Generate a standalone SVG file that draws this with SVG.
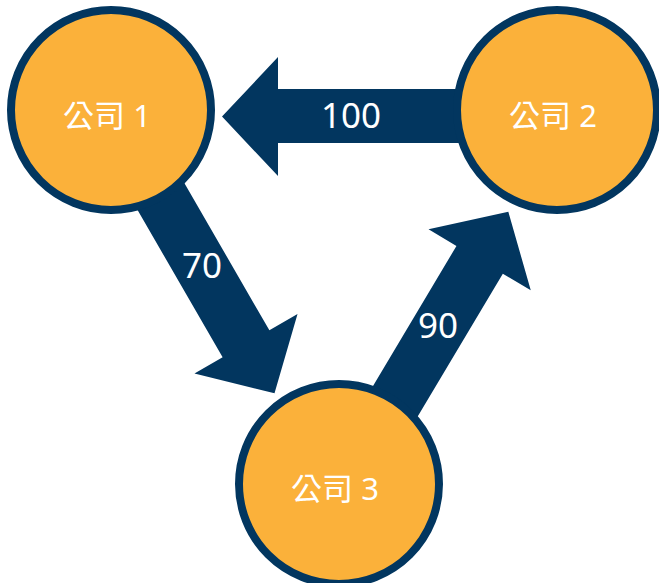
<svg xmlns="http://www.w3.org/2000/svg" width="659" height="583" viewBox="0 0 659 583">
  <style>
    .flow { fill: #02365F; }
    .node circle { fill: #FBB13A; stroke: #02365F; stroke-width: 8; }
    .name { fill: #FFFFFF; font-family: "Noto Sans", "Noto Sans CJK TC", sans-serif; font-size: 31px; text-anchor: middle; }
    .qty { fill: #FFFFFF; font-family: "Noto Sans", sans-serif; font-size: 35px; text-anchor: middle; }
  </style>
  <g id="connectors">
    <!-- 公司 2 -> 公司 1 -->
    <polygon class="flow" points="557,89 278,89 278,57 222,116.5 278,176 278,143 557,143"/>
    <!-- 公司 1 -> 公司 3 -->
    <g transform="translate(111,110) rotate(60)">
      <polygon class="flow" points="0,-27 270,-27 270,-59.5 327,0 270,59.5 270,27 0,27"/>
    </g>
    <!-- 公司 3 -> 公司 2 -->
    <g transform="translate(346,484) rotate(-59.2)">
      <polygon class="flow" points="0,-27 261,-27 261,-59.5 317,0 261,59.5 261,27 0,27"/>
    </g>
    <text class="qty" x="351" y="128">100</text>
    <text class="qty" x="202" y="278">70</text>
    <text class="qty" x="438" y="338">90</text>
  </g>
  <g id="node1" class="node">
    <circle cx="111" cy="110" r="100"/>
    <text class="name" x="107" y="127">公司 1</text>
  </g>
  <g id="node2" class="node">
    <circle cx="557" cy="110" r="100"/>
    <text class="name" x="553" y="127">公司 2</text>
  </g>
  <g id="node3" class="node">
    <circle cx="339" cy="484" r="100"/>
    <text class="name" x="335" y="500">公司 3</text>
  </g>
</svg>
